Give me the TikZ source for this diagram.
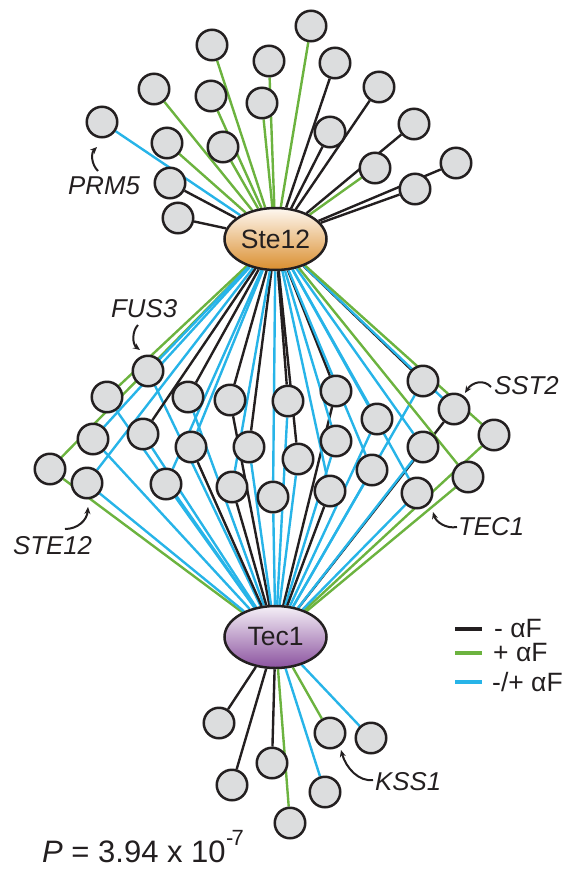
\documentclass[tikz,border=0pt]{standalone}
\usepackage{fontspec}
\setmainfont{Liberation Sans}
\usetikzlibrary{shapes.geometric,arrows.meta}
\pgfdeclarelayer{bg}
\pgfsetlayers{bg,main}
\definecolor{eK}{HTML}{231F20}
\definecolor{eG}{HTML}{6CB33F}
\definecolor{eB}{HTML}{27B4E8}
\definecolor{nodegray}{HTML}{DCDDDE}
\definecolor{steTop}{HTML}{FEF8F1}
\definecolor{steBot}{HTML}{DA8E2E}
\definecolor{tecTop}{HTML}{F5F0F7}
\definecolor{tecBot}{HTML}{8B529F}
\tikzset{
  gene/.style={circle, draw=eK, line width=2.5pt, fill=nodegray, minimum size=30.5pt, inner sep=0pt},
  tf/.style={ellipse, draw=eK, line width=2.5pt, minimum width=102pt, minimum height=62pt, inner sep=0pt, font=\fontsize{26.5}{30}\selectfont, text=eK},
  edge/.style={line width=2.4pt},
  lbl/.style={font=\fontsize{25.8}{30}\selectfont\itshape, text=eK, inner sep=0pt, anchor=west},
  legtxt/.style={font=\fontsize{26.5}{30}\selectfont, text=eK, inner sep=0pt, anchor=west},
  legbar/.style={line width=3.6pt},
  callout/.style={draw=eK, line width=2pt, -{Stealth[length=7pt,width=6pt]}},
}
\begin{document}
\begin{tikzpicture}[x=1pt,y=-1pt]
\useasboundingbox (0,0) rectangle (569,871);
% transcription factors
\node[tf, top color=steTop, bottom color=steBot] (ste) at (275.5,239) {Ste12};
\node[tf, top color=tecTop, bottom color=tecBot] (tec) at (275.5,637) {Tec1};
% top targets
\foreach \n/\x/\y in {t1/102/122, t2/154/89, t3/212/45, t4/211/96, t5/269/61, t6/262/103,
  t7/311/26, t8/335/63, t9/379/87, t10/330/132, t11/414/124, t12/375/168, t13/456/163,
  t14/415/189, t15/223/147, t16/167/143, t17/170/183, t18/178/218}
  \node[gene] (\n) at (\x,\y) {};
% shared targets
\foreach \n/\x/\y in {m1/50/469, m2/107/397, m3/148/371, m4/93/439, m5/87/483, m6/143/434,
  m7/166/484, m8/188/397, m9/191/447, m10/230/400, m11/249/447, m12/232/487, m13/273/497,
  m14/288/401, m15/298/459, m16/336/391, m17/336/441, m18/330/491, m19/377/419, m20/372/470,
  m21/423/381, m22/454/409, m23/494/435, m24/423/447, m25/468/477, m26/417/493}
  \node[gene] (\n) at (\x,\y) {};
% bottom targets
\foreach \n/\x/\y in {b1/219/723, b2/232/785, b3/272/763, b4/290/823, b5/325/792, b6/330/733, b7/371/738}
  \node[gene] (\n) at (\x,\y) {};
\begin{pgfonlayer}{bg}
\foreach \n/\c in {t1/eB, t2/eG, t3/eG, t4/eG, t5/eG, t6/eG, t7/eG, t8/eK, t9/eK, t10/eK,
  t11/eK, t12/eG, t13/eK, t14/eK, t15/eG, t16/eG, t17/eK, t18/eK}
  \draw[edge, draw=\c] (ste) -- (\n);
\foreach \n/\c/\d in {m1/eG/eG, m2/eG/eB, m3/eB/eB, m4/eB/eB, m5/eB/eB, m6/eK/eB, m7/eB/eB,
  m8/eK/eB, m9/eB/eK, m10/eK/eK, m11/eK/eB, m12/eB/eK, m13/eB/eB, m14/eK/eB, m15/eK/eB,
  m16/eK/eK, m17/eB/eB, m18/eB/eK, m19/eB/eB, m20/eB/eB, m21/eK/eB, m22/eB/eK, m23/eG/eG,
  m24/eB/eB, m25/eG/eG, m26/eB/eB}
  {\draw[edge, draw=\c] (ste) -- (\n);
   \draw[edge, draw=\d] (\n) -- (tec);}
\foreach \n/\c in {b1/eK, b2/eK, b3/eK, b4/eG, b5/eB, b6/eG, b7/eB}
  \draw[edge, draw=\c] (tec) -- (\n);
\end{pgfonlayer}
% gene labels
\node[lbl] (lprm) at (68,186) {PRM5};
\node[lbl] (lfus) at (111,309) {FUS3};
\node[lbl] (lste) at (13,546) {STE12};
\node[lbl] (lsst) at (494,386) {SST2};
\node[lbl] (ltec) at (458,527) {TEC1};
\node[lbl] (lkss) at (375,782) {KSS1};
\coordinate (aprm1) at (98,171); \coordinate (aprm2) at (97,147);
\coordinate (afus1) at (138,325); \coordinate (afus2) at (140,350);
\coordinate (aste1) at (65,529); \coordinate (aste2) at (88,507);
\coordinate (asst1) at (491,387); \coordinate (asst2) at (465,393);
\coordinate (atec1) at (457,527); \coordinate (atec2) at (433,512);
\coordinate (akss1) at (373,780); \coordinate (akss2) at (341,750);
\draw[callout] (aprm1) .. controls (91,164) and (91,153) .. (aprm2);
\draw[callout] (afus1) .. controls (132,331) and (132,344) .. (afus2);
\draw[callout] (aste1) .. controls (78,529) and (87,520) .. (aste2);
\draw[callout] (asst1) .. controls (484,379) and (472,382) .. (asst2);
\draw[callout] (atec1) .. controls (446,529) and (436,522) .. (atec2);
\draw[callout] (akss1) .. controls (359,782) and (346,768) .. (akss2);
% legend
\coordinate (lk1) at (455,629); \coordinate (lk2) at (482,629);
\coordinate (lg1) at (455,653); \coordinate (lg2) at (482,653);
\coordinate (lb1) at (455,682); \coordinate (lb2) at (482,682);
\draw[legbar, draw=eK] (lk1) -- (lk2);
\draw[legbar, draw=eG] (lg1) -- (lg2);
\draw[legbar, draw=eB] (lb1) -- (lb2);
\node[legtxt] (tk) at (494,629) {- αF};
\node[legtxt] (tg) at (493,653) {+ αF};
\node[legtxt] (tb) at (492,682) {-/+ αF};
% p-value
\node[anchor=base west, inner sep=0pt, font=\fontsize{31}{36}\selectfont, text=eK] (pval) at (42,862)
  {{\itshape P} = 3.94 x 10\kern0.5pt\raisebox{17pt}{\fontsize{22}{22}\selectfont -\kern-2pt 7}};
\end{tikzpicture}
\end{document}
